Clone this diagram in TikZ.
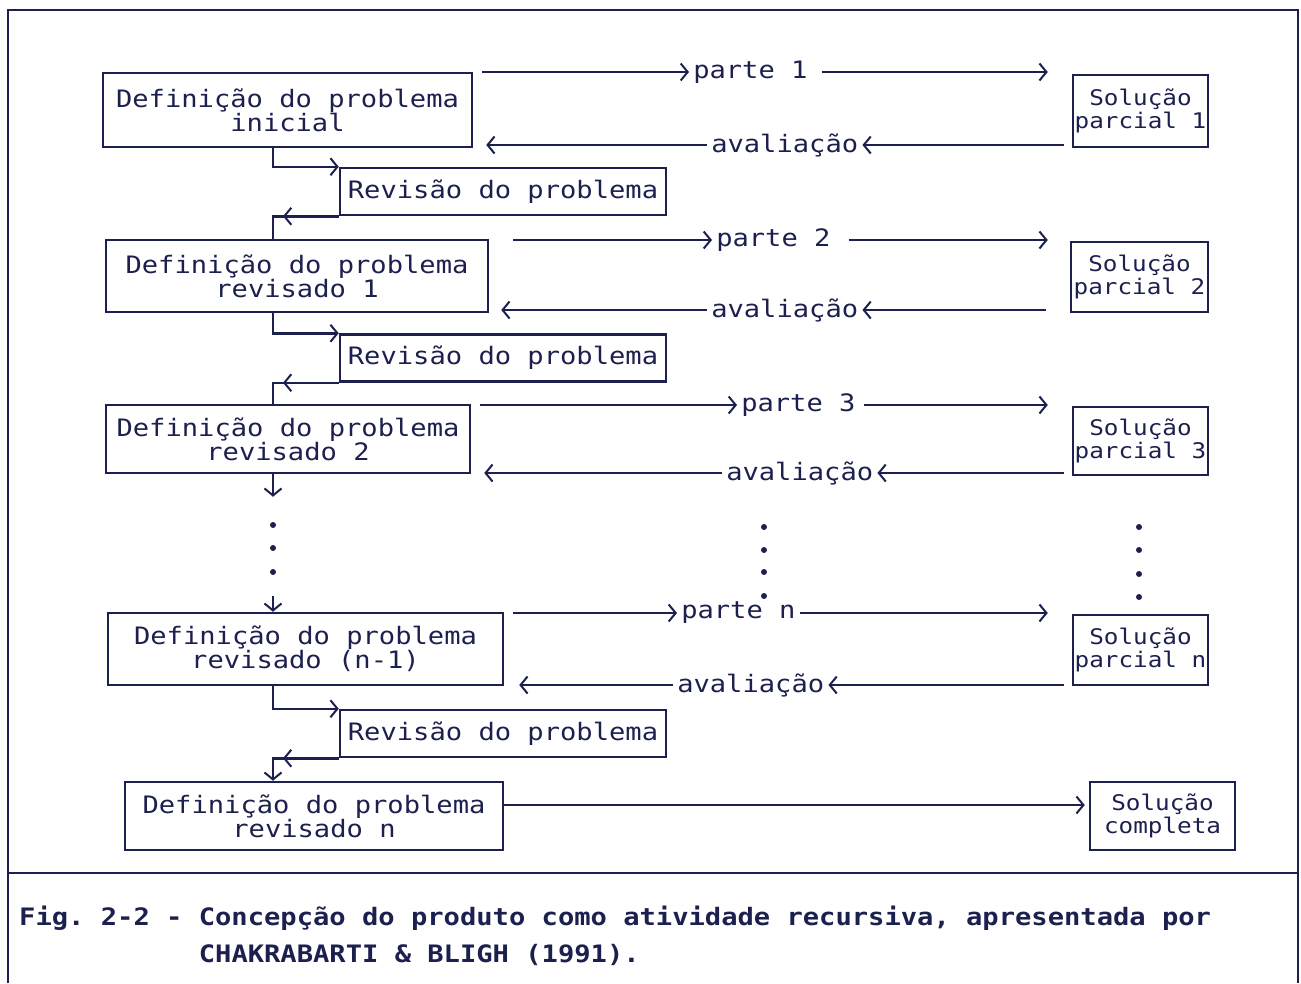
\documentclass[tikz,border=0pt]{standalone}
\usepackage{fontspec}
\setmonofont[FakeStretch=1.13]{DejaVu Sans Mono}
\usetikzlibrary{arrows.meta}
\definecolor{ink}{RGB}{28,32,78}
\tikzset{
	boxnode/.style = {
		draw=ink,
		text=ink,
		line width=2.5pt,
		align=center,
		inner sep=0pt,
		font=\ttfamily\fontsize{24}{24}\selectfont
	},
	def_box/.style = {
		boxnode,
		minimum height=70pt
	},
	rev_box/.style = {
		boxnode,
		minimum width=326pt,
		minimum height=47pt
	},
	sol_box/.style = {
		boxnode,
		minimum width=135pt,
		minimum height=70pt,
		font=\ttfamily\fontsize{21.5}{23}\selectfont
	},
	txt_lbl/.style = {
		text=ink,
		inner sep=3pt,
		anchor=west,
		font=\ttfamily\fontsize{24}{24}\selectfont
	},
	dot_pt/.style = {
		circle,
		fill=ink,
		inner sep=0pt,
		minimum size=6pt
	},
	cap_txt/.style = {
		text=ink,
		align=left,
		inner sep=0pt,
		anchor=base west,
		font=\ttfamily\bfseries\fontsize{24}{37}\selectfont
	},
}

\begin{document}
\begin{tikzpicture}[x=1pt, y=-1pt, line width=2.5pt, draw=ink, ->, >={Straight Barb[length=7pt,width=17pt,line width=2pt]}]
\useasboundingbox (0,0) rectangle (1301,983);
% frame and caption
\draw[-] (8,983) -- (8,10) -- (1298,10) -- (1298,983);
\draw[-] (8,873) -- (1298,873);
\node[cap_txt] (cap) at (18,962) {Fig.~2-2 - Concepção do produto como atividade recursiva, apresentada por\\\phantom{Fig.~2-2~-~}CHAKRABARTI \& BLIGH (1991).};

\coordinate (spine) at (273,0);

% problem definitions
\node[def_box, minimum width=369pt, minimum height=74pt] (d1) at (287.5,110) {Definição do problema\\inicial};
\node[def_box, minimum width=382pt, minimum height=72pt] (d2) at (297,276) {Definição do problema\\revisado 1};
\node[def_box, minimum width=364pt, minimum height=68pt] (d3) at (288,439) {Definição do problema\\revisado 2};
\node[def_box, minimum width=395pt, minimum height=72pt] (d4) at (305.5,649) {Definição do problema\\revisado (n-1)};
\node[def_box, minimum width=378pt, minimum height=68pt] (d5) at (314,816) {Definição do problema\\revisado n};

% partial solutions
\node[sol_box, minimum height=72pt] (s1) at (1140.5,111) {Solução\\parcial 1};
\node[sol_box, minimum width=137pt] (s2) at (1139.5,277) {Solução\\parcial 2};
\node[sol_box, minimum height=68pt] (s3) at (1140.5,441) {Solução\\parcial 3};
\node[sol_box] (s4) at (1140.5,650) {Solução\\parcial n};
\node[sol_box, minimum width=145pt, minimum height=68pt] (s5) at (1162.5,816) {Solução\\completa};

% revisions
\node[rev_box] (r1) at (503,191.5) {Revisão do problema};
\node[rev_box] (r2) at (503,358) {Revisão do problema};
\node[rev_box] (r3) at (503,733.5) {Revisão do problema};

% labels on the arrows
\node[txt_lbl] (p1) at (689,72) {parte 1};
\node[txt_lbl] (p2) at (712,240) {parte 2};
\node[txt_lbl] (p3) at (737,405) {parte 3};
\node[txt_lbl] (p4) at (677,613) {parte n};
\node[txt_lbl] (a1) at (707,145) {avaliação};
\node[txt_lbl] (a2) at (707,310) {avaliação};
\node[txt_lbl] (a3) at (722,473) {avaliação};
\node[txt_lbl] (a4) at (673,685) {avaliação};

% dots
\node[dot_pt] (ldot1) at (273,525) {};
\node[dot_pt] (ldot2) at (273,548) {};
\node[dot_pt] (ldot3) at (273,572) {};
\node[dot_pt] (mdot1) at (764,527) {};
\node[dot_pt] (mdot2) at (764,550) {};
\node[dot_pt] (mdot3) at (764,572) {};
\node[dot_pt] (mdot4) at (764,596) {};
\node[dot_pt] (rdot1) at (1139,527) {};
\node[dot_pt] (rdot2) at (1139,550) {};
\node[dot_pt] (rdot3) at (1139,574) {};
\node[dot_pt] (rdot4) at (1139,597) {};

% parts out, evaluations back
\draw[shorten <=9pt] (p1.west -| d1.east) -- (p1.west);
\draw[shorten <=10pt, shorten >=24pt] (p1.east) -- (p1.east -| s1.west);
\draw[shorten <=8pt] (a1.east -| s1.west) -- (a1.east);
\draw[shorten >=13pt] (a1.west) -- (a1.west -| d1.east);

\draw[shorten <=24pt] (p2.west -| d2.east) -- (p2.west);
\draw[shorten <=14pt, shorten >=22pt] (p2.east) -- (p2.east -| s2.west);
\draw[shorten <=24pt] (a2.east -| s2.west) -- (a2.east);
\draw[shorten >=12pt] (a2.west) -- (a2.west -| d2.east);

\draw[shorten <=9pt] (p3.west -| d3.east) -- (p3.west);
\draw[shorten <=4pt, shorten >=24pt] (p3.east) -- (p3.east -| s3.west);
\draw[shorten <=8pt] (a3.east -| s3.west) -- (a3.east);
\draw[shorten >=13pt] (a3.west) -- (a3.west -| d3.east);

\draw[shorten <=9pt] (p4.west -| d4.east) -- (p4.west);
\draw[shorten >=24pt] (p4.east) -- (p4.east -| s4.west);
\draw[shorten <=8pt] (a4.east -| s4.west) -- (a4.east);
\draw[shorten >=15pt] (a4.west) -- (a4.west -| d4.east);

\draw[shorten >=4pt] ([yshift=11pt]d5.east) -- ([yshift=11pt]d5.east -| s5.west);

% revision loops
\draw (d1.south -| spine) |- (r1.north west);
\draw[-] (r1.south west) -| (d2.north -| spine);
\draw[shorten >=10pt] (r1.south west) -- (r1.south west -| spine);

\draw (d2.south -| spine) |- (r2.north west);
\draw[-] (r2.south west) -| (d3.north -| spine);
\draw[shorten >=10pt] (r2.south west) -- (r2.south west -| spine);

\draw[shorten >=24pt] (d3.south -| spine) -- (ldot1);
\draw[shorten <=20pt] (ldot3) -- (d4.north -| spine);

\draw (d4.south -| spine) |- (r3.north west);
\draw (r3.south west) -| (d5.north -| spine);
\draw[shorten >=10pt] (r3.south west) -- (r3.south west -| spine);
\end{tikzpicture}
\end{document}
